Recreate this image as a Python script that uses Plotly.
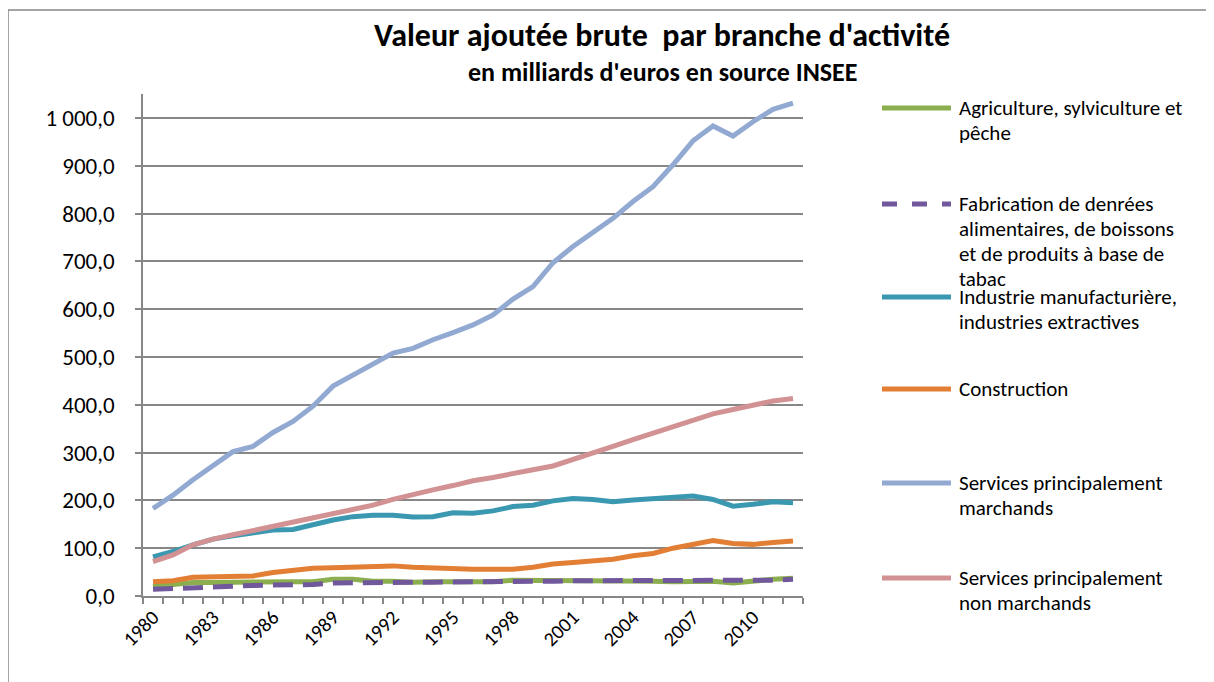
import plotly.graph_objects as go

# ---------- DATA ----------

years = list(range(1980, 2013))

agriculture = [20, 23, 28, 28, 29, 29, 29, 30, 30, 35, 35, 31, 31, 29, 30, 30, 30,
               30, 33, 33, 33, 32, 32, 31, 32, 31, 30, 31, 31, 27, 32, 35, 37]
fabrication = [14, 16, 18, 20, 21, 22, 23, 23, 24, 27, 28, 29, 29, 29, 29, 29, 29,
               30, 30, 31, 31, 32, 32, 32, 33, 33, 33, 33, 33, 32, 31, 33, 35]
industrie = [82, 93, 107, 119, 126, 132, 138, 139, 149, 159, 166, 169, 169, 165, 166, 174, 173,
             178, 187, 190, 199, 204, 202, 197, 201, 204, 205, 209, 202, 188, 192, 197, 195]
construction = [30, 32, 39, 40, 40, 42, 49, 53, 58, 59, 61, 63, 63, 60, 58, 58, 56,
                56, 56, 60, 67, 70, 73, 77, 84, 89, 100, 109, 116, 110, 108, 112, 115]
services_marchands = [183, 211, 243, 274, 302, 313, 342, 365, 397, 439, 462, 487, 508, 518, 536, 551, 567,
                      588, 621, 647, 697, 731, 760, 790, 825, 856, 902, 952, 983, 962, 992, 1018, 1031]
services_non_marchands = [72, 86, 107, 119, 128, 137, 146, 153, 163, 171, 180, 190, 202, 213, 222, 231, 241,
                          248, 257, 264, 272, 285, 299, 313, 327, 341, 355, 369, 381, 390, 399, 408, 413]

y_tickvals = [0, 100, 200, 300, 400, 500, 600, 700, 800, 900, 1000]
y_ticktext = ["0,0", "100,0", "200,0", "300,0", "400,0", "500,0",
              "600,0", "700,0", "800,0", "900,0", "1 000,0"]
x_tickvals = list(range(1980, 2013, 3))

series = [
    (["Agriculture, sylviculture et", "pêche"], agriculture, "#8BAE4F", "solid"),
    (["Fabrication de denrées", "alimentaires, de boissons",
      "et de produits à base de", "tabac"], fabrication, "#71589C", "20px,10px"),
    (["Industrie manufacturière,", "industries extractives"], industrie, "#3A98B0", "solid"),
    (["Construction"], construction, "#E37F34", "solid"),
    (["Services principalement", "marchands"], services_marchands, "#92A9D2", "solid"),
    (["Services principalement", "non marchands"], services_non_marchands, "#D29293", "solid"),
]

# ---------- LAYOUT HELPERS ----------

# the page body adds an 8px margin, so the figure is drawn 8px smaller
OFF = 8
W, H = 1214 - OFF, 682 - OFF
L, T = 143 - OFF, 94 - OFF
R = W - (803 - OFF)
B = H - (596 - OFF)
PW, PH = W - L - R, H - T - B
FONT = "Calibri, Carlito, Lato, sans-serif"


def fx(px):
    return (px - OFF - L) / PW


def fy(py):
    return (H - B - (py - OFF)) / PH


fig = go.Figure()

for labels, values, color, dash in series:
    fig.add_trace(go.Scatter(
        x=years, y=values, mode="lines", name=" ".join(labels),
        line=dict(color=color, width=5, dash=dash),
        showlegend=False
    ))

# ---------- MANUAL LEGEND (Excel style) ----------

legend_y = [108, 204, 297, 389, 483, 578]
line_gap = 25
shapes = []
annotations = []

for (labels, values, color, dash), ly in zip(series, legend_y):
    shapes.append(dict(
        type="line", xref="paper", yref="paper",
        x0=fx(882), x1=fx(951), y0=fy(ly), y1=fy(ly),
        line=dict(color=color, width=5, dash="dash" if dash != "solid" else "solid")
    ))
    for k, txt in enumerate(labels):
        annotations.append(dict(
            text=txt, xref="paper", yref="paper",
            x=fx(957), y=fy(ly + k * line_gap),
            xanchor="left", yanchor="middle", showarrow=False,
            font=dict(family=FONT, size=21, color="#000000")
        ))

# outer chart frame
shapes.append(dict(
    type="rect", xref="paper", yref="paper",
    x0=fx(8), x1=fx(1240), y0=fy(10), y1=fy(720),
    line=dict(color="#878787", width=1.5), layer="below"
))

annotations.append(dict(
    text="<b>Valeur ajoutée brute\u00a0 par branche d'activité</b>",
    xref="paper", yref="paper", x=fx(662), y=fy(35),
    xanchor="center", yanchor="middle", showarrow=False,
    font=dict(family=FONT, size=32, color="#000000")
))
annotations.append(dict(
    text="<b>en milliards d'euros en source INSEE</b>",
    xref="paper", yref="paper", x=fx(662), y=fy(72),
    xanchor="center", yanchor="middle", showarrow=False,
    font=dict(family=FONT, size=26, color="#000000")
))

fig.update_layout(
    width=W, height=H,
    margin=dict(l=L, r=R, t=T, b=B),
    paper_bgcolor="white",
    plot_bgcolor="white",
    shapes=shapes,
    annotations=annotations,
    font=dict(family=FONT, color="#000000"),
)

fig.update_xaxes(
    range=[1979.5, 2012.5],
    tickvals=x_tickvals,
    ticktext=[str(v) for v in x_tickvals],
    tickangle=-45,
    ticks="",
    showgrid=False,
    showline=True, linecolor="#878787", linewidth=1.5,
    tickfont=dict(family=FONT, size=20, color="#000000"),
    minor=dict(ticks="outside", tick0=1979.5, dtick=1, ticklen=6,
               tickcolor="#878787", tickwidth=1.5, showgrid=False),
    zeroline=False,
)

fig.update_yaxes(
    range=[0, 1050],
    tickvals=y_tickvals,
    ticktext=y_ticktext,
    ticks="outside", ticklen=6, tickcolor="#878787", tickwidth=1.5,
    showgrid=True, gridcolor="#878787", gridwidth=1.5,
    showline=True, linecolor="#878787", linewidth=1.5,
    tickfont=dict(family=FONT, size=23, color="#000000"),
    ticklabelstandoff=16,
    zeroline=False,
)

fig.write_html("out.html")
